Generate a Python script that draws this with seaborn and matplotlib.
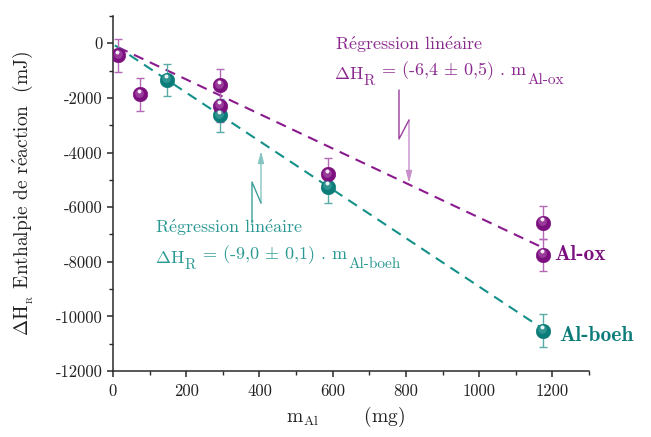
import warnings
warnings.filterwarnings('ignore')
import matplotlib
matplotlib.use('Agg')
import matplotlib.pyplot as plt
import matplotlib.transforms as mtransforms
from matplotlib.ticker import MultipleLocator, FuncFormatter
import seaborn as sns

# ---------------- data ----------------
ox_mass = [15, 74, 293, 293, 587, 1174, 1174]
ox_dh = [-440, -1870, -1540, -2300, -4800, -6570, -7750]
ox_err = [600, 600, 600, 600, 600, 600, 600]

boeh_mass = [147, 293, 587, 1174]
boeh_dh = [-1340, -2640, -5260, -10520]
boeh_err = [600, 600, 600, 600]

ox_fit_mass = [14, 1164]
ox_fit_dh = [-146, -7420]
boeh_fit_mass = [5, 1170]
boeh_fit_dh = [-73, -10420]

x_major = 200
y_major = 2000

# ---------------- style ----------------
sns.set_style('ticks')
plt.rcParams['font.family'] = ['cmr10', 'DejaVu Serif']
plt.rcParams['mathtext.fontset'] = 'cm'
plt.rcParams['axes.unicode_minus'] = False

PURPLE = '#7c107f'
PURPLE_HI = '#a24aa5'
PURPLE_LINE = '#8a1a8d'
PURPLE_TXT = '#8b2a8e'
PURPLE_ERR = '#b469b6'
TEAL = '#0b7c78'
TEAL_HI = '#3a9e9a'
TEAL_LINE = '#14908a'
TEAL_TXT = '#2b9993'
TEAL_ERR = '#5aaba7'
AXC = '#2a2a2a'

E = r'$\acute{\mathrm{e}}$'

W, H = 651, 437
fig = plt.figure(figsize=(W / 100, H / 100), dpi=100)
ax = fig.add_axes([113 / W, 66 / H, 476 / W, 355 / H])
pix = mtransforms.Affine2D().scale(1 / W, -1 / H).translate(0, 1) + fig.transFigure

ax.set_xlim(0, 1300)
ax.set_ylim(-12000, 1000)

# regression lines
sns.lineplot(x=ox_fit_mass, y=ox_fit_dh, ax=ax, color=PURPLE_LINE, lw=1.5,
             linestyle=(0, (5, 3.4)), sort=False, estimator=None, zorder=2)
sns.lineplot(x=boeh_fit_mass, y=boeh_fit_dh, ax=ax, color=TEAL_LINE, lw=1.5,
             linestyle=(0, (5, 3.4)), sort=False, estimator=None, zorder=2)

# error bars
ax.errorbar(ox_mass, ox_dh, yerr=ox_err, fmt='none', ecolor=PURPLE_ERR,
            elinewidth=1.0, capsize=2.8, capthick=1.0, zorder=3)
ax.errorbar(boeh_mass, boeh_dh, yerr=boeh_err, fmt='none', ecolor=TEAL_ERR,
            elinewidth=1.0, capsize=2.8, capthick=1.0, zorder=3)

# spheres
def spheres(xs, ys, base, hi):
    sns.scatterplot(x=xs, y=ys, ax=ax, s=110, color=base, edgecolor=base,
                    linewidth=0.4, zorder=4, legend=False)
    t1 = mtransforms.offset_copy(ax.transData, fig=fig, x=-0.6, y=1.3, units='points')
    ax.scatter(xs, ys, s=40, color=hi, alpha=0.75, linewidths=0, transform=t1, zorder=5)
    t2 = mtransforms.offset_copy(ax.transData, fig=fig, x=-0.8, y=2.7, units='points')
    ax.scatter(xs, ys, s=8, color='white', alpha=0.9, linewidths=0, transform=t2, zorder=6)

spheres(boeh_mass, boeh_dh, TEAL, TEAL_HI)
spheres(ox_mass, ox_dh, PURPLE, PURPLE_HI)

# axes styling
sns.despine(ax=ax)
for s in ('left', 'bottom'):
    ax.spines[s].set_linewidth(1.1)
    ax.spines[s].set_color(AXC)
ax.xaxis.set_major_locator(MultipleLocator(x_major))
ax.xaxis.set_minor_locator(MultipleLocator(x_major / 2))
ax.yaxis.set_major_locator(MultipleLocator(y_major))
ax.yaxis.set_minor_locator(MultipleLocator(y_major / 2))
fmt = FuncFormatter(lambda v, p: f'{v:.0f}')
ax.xaxis.set_major_formatter(fmt)
ax.yaxis.set_major_formatter(fmt)
ax.tick_params(which='major', direction='out', length=4.3, width=1.1, color=AXC,
               labelsize=12, labelcolor='#222222')
ax.tick_params(which='minor', direction='out', length=3.0, width=1.0, color=AXC)
ax.tick_params(axis='x', which='major', pad=4.5)
ax.tick_params(axis='y', which='major', pad=3)

ax.set_xlabel(r'm$_{\mathrm{Al}}$       (mg)', fontsize=14, color='#222222')
ax.xaxis.set_label_coords(0.488, -0.095)
ax.set_ylabel(r'$\Delta$H$_{_{\mathrm{R}}}$ Enthalpie de r' + E + 'action  (mJ)',
              fontsize=14, color='#222222')
ax.yaxis.set_label_coords(-0.162, 0.5)

# series labels
ax.text(1206, -7750, 'Al-ox', family='cmb10', fontsize=15.5, color=PURPLE,
        va='center', ha='left', clip_on=False)
ax.text(1220, -10700, 'Al-boeh', family='cmb10', fontsize=15.5, color=TEAL,
        va='center', ha='left', clip_on=False)

# annotation texts
def chain(x, y, parts, color, size):
    first = fig.text(x, y, parts[0][0], transform=pix, fontsize=size, color=color,
                     va='baseline', ha='left')
    prev = first
    for s, dy, sc in parts[1:]:
        prev = ax.annotate(s, xy=(1, 0), xycoords=(prev, first), xytext=(0, dy),
                           textcoords='offset points', va='bottom', ha='left',
                           fontsize=size * sc, color=color, annotation_clip=False)

reg_txt = 'R' + E + 'gression lin' + E + 'aire'
fig.text(335, 50, reg_txt, transform=pix, fontsize=13, color=PURPLE_TXT,
         va='baseline', ha='left')
chain(334, 79, [(r'$\Delta$H', 0, 1), ('R', -4.5, 0.85),
                (r' = (-6,4 $\pm$ 0,5) . m', 0, 1), ('Al-ox', -3.5, 0.85)], PURPLE_TXT, 13)
fig.text(155, 233, reg_txt, transform=pix, fontsize=13, color=TEAL_TXT,
         va='baseline', ha='left')
chain(155, 263, [(r'$\Delta$H', 0, 1), ('R', -4.5, 0.85),
                 (r' = (-9,0 $\pm$ 0,1) . m', 0, 1), ('Al-boeh', -3.5, 0.85)], TEAL_TXT, 13)

# zig-zag arrows
def zigzag(pts, c1, c2):
    xs = [p[0] for p in pts[:-1]]
    ys = [p[1] for p in pts[:-1]]
    fig.add_artist(plt.Line2D(xs, ys, transform=pix, color=c1, lw=1.0))
    ax.annotate('', xy=pts[-1], xytext=pts[-2], xycoords=pix, textcoords=pix,
                arrowprops=dict(arrowstyle='-|>,head_length=0.7,head_width=0.18',
                                color=c2, lw=1.0, shrinkA=0, shrinkB=0),
                annotation_clip=False)

zigzag([(399, 90), (399, 139), (409, 120), (409, 183)], '#9a3d9d', '#c88ec9')
zigzag([(252, 223), (252, 182), (261, 203), (261, 151)], '#3c9f9a', '#86c4c1')

fig.savefig('out.png', dpi=100)
